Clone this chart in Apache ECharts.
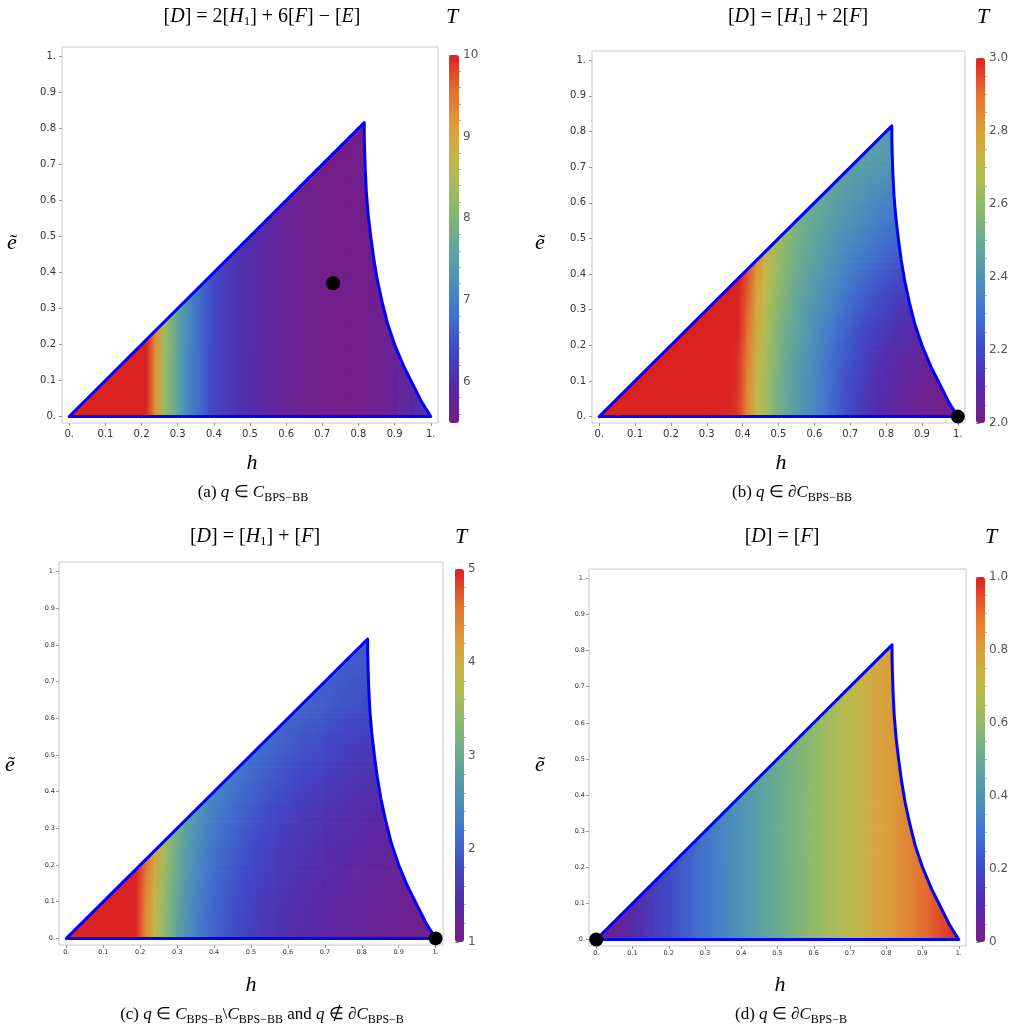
<!DOCTYPE html>
<html>
<head>
<meta charset="utf-8" />
<title>T over the (h, e) region</title>
<script src="https://cdn.jsdelivr.net/npm/echarts@6/dist/echarts.min.js"></script>
<style>
  html, body { margin: 0; padding: 0; background: #fff; }
  #main { width: 1012px; height: 1034px; }
</style>
</head>
<body>
<div id="main"></div>
<script type="text/javascript">
// region boundary (same for all four panels)
var diagTop = [0.816, 0.816];
var curveH = [0.816, 0.816, 0.817, 0.819, 0.822, 0.827, 0.834, 0.842, 0.852, 0.865, 0.88, 0.9, 0.925, 0.95, 0.975, 1.0];
var curveE = [0.816, 0.78, 0.74, 0.68, 0.62, 0.56, 0.5, 0.44, 0.38, 0.32, 0.26, 0.2, 0.14, 0.09, 0.04, 0];
var axisTicks = [0, 0.1, 0.2, 0.3, 0.4, 0.5, 0.6, 0.7, 0.8, 0.9, 1];

// T: one array per band of e (0-0.1, 0.1-0.2, ...),
// cells 0.025 wide in h, band k starts at h = 0.1 k
var cellW = 0.025, rowH = 0.1;
var rowsA = [
  [10,10,10,10,10,10,10,10,10, 9.2,8.3,7.8,7.3,6.95,6.7,6.45,6.28,6.18,6.09,6.01, 5.94,5.87,5.8,5.74,5.69,5.65,5.61,5.58,5.56,5.55, 5.55,5.56,5.58,5.61,5.65,5.7,5.76,5.84,5.93,6.02],
  [10,10,10,10,10, 9.2,8.3,7.8,7.3,6.95,6.7,6.45,6.28,6.18,6.09,6.01, 5.94,5.87,5.8,5.74,5.69,5.65,5.61,5.58,5.56,5.55, 5.55,5.56,5.58,5.61,5.65,5.7,5.76,5.84],
  [10, 9.3,8.4,7.85,7.35,7.0,6.72,6.47,6.3,6.19,6.1,6.02, 5.94,5.87,5.8,5.74,5.69,5.65,5.61,5.58,5.56,5.55, 5.55,5.56,5.58,5.61,5.65,5.7],
  [7.35,7.0,6.72,6.47,6.3,6.19,6.1,6.02, 5.94,5.87,5.8,5.74,5.69,5.65,5.61,5.58,5.56,5.55, 5.55,5.56,5.58,5.6,5.64],
  [6.3,6.19,6.1,6.02, 5.94,5.87,5.8,5.74,5.69,5.65,5.61,5.58,5.56,5.55, 5.55,5.56,5.57,5.6],
  [5.94,5.87,5.8,5.74,5.69,5.65,5.61,5.58,5.56,5.55, 5.55,5.56,5.57,5.59],
  [5.69,5.65,5.61,5.58,5.56,5.55,5.55,5.56,5.57],
  [5.56,5.55,5.55,5.56,5.57],
  [5.57]
];
var rowsB = [
  [3,3,3,3,3,3,3,3,3,3,3,3,3,3,3, 2.97,2.85,2.72,2.63,2.56,2.5,2.45,2.41,2.37,2.33, 2.29,2.25,2.21,2.18,2.15,2.12,2.1,2.08,2.06,2.05, 2.04,2.03,2.02,2.01,2.01],
  [3,3,3,3,3,3,3,3,3,3,3, 2.98,2.87,2.74,2.65,2.57,2.51,2.46,2.42,2.38,2.34, 2.3,2.26,2.23,2.2,2.17,2.14,2.12,2.1,2.08,2.07, 2.06,2.05,2.04],
  [3,3,3,3,3,3,3,3, 2.9,2.77,2.67,2.59,2.53,2.48,2.44,2.4,2.36,2.33, 2.29,2.26,2.23,2.2,2.18,2.16,2.14,2.12,2.11,2.1],
  [3,3,3,3, 2.93,2.8,2.7,2.62,2.56,2.51,2.47,2.43,2.4,2.37, 2.34,2.31,2.28,2.25,2.23,2.21,2.19,2.17,2.16],
  [2.96,2.84,2.73,2.65,2.59,2.54,2.5,2.47,2.44,2.41, 2.38,2.35,2.33,2.31,2.29,2.27,2.25,2.24],
  [2.62,2.57,2.53,2.5,2.47,2.45,2.42,2.4,2.38,2.36, 2.34,2.32,2.31,2.3],
  [2.5,2.48,2.46,2.44,2.42,2.41,2.39,2.38,2.37],
  [2.46,2.45,2.44,2.43,2.42],
  [2.44]
];
var rowsC = [
  [5,5,5,5,5,5,5,5, 4.4,3.9,3.4,3.0,2.7,2.45,2.25,2.1,1.98,1.88, 1.8,1.72,1.65,1.59,1.54,1.49,1.45,1.41,1.37,1.34, 1.31,1.28,1.25,1.23,1.2,1.18,1.16,1.14,1.12,1.1, 1.08,1.06],
  [5,5,5,5, 4.5,4.0,3.5,3.1,2.78,2.52,2.32,2.17,2.05,1.95, 1.86,1.78,1.71,1.65,1.6,1.55,1.5,1.46,1.42,1.39, 1.36,1.33,1.3,1.27,1.25,1.22,1.2,1.18,1.16,1.14],
  [4.7,4.2,3.65,3.2,2.88,2.62,2.42,2.26,2.14,2.04, 1.95,1.87,1.8,1.73,1.68,1.63,1.58,1.54,1.5,1.46, 1.43,1.4,1.37,1.34,1.31,1.28,1.26,1.24],
  [3.0,2.75,2.55,2.39,2.26,2.16,2.07,1.99,1.92,1.85, 1.79,1.74,1.69,1.64,1.6,1.56,1.52,1.49,1.46,1.43, 1.4,1.37,1.35],
  [2.4,2.3,2.21,2.13,2.06,2.0,1.94,1.88,1.83,1.78, 1.74,1.7,1.66,1.62,1.58,1.55,1.52,1.49],
  [2.2,2.14,2.08,2.03,1.98,1.93,1.89,1.85,1.81,1.77, 1.73,1.7,1.67,1.64],
  [2.12,2.08,2.04,2.0,1.96,1.92,1.88,1.85,1.82],
  [2.04,2.01,1.98,1.95,1.92],
  [1.98]
];
var rowsD = [
  [0.01,0.04,0.06,0.09,0.11,0.14,0.16,0.19,0.21,0.24, 0.26,0.29,0.31,0.34,0.36,0.39,0.41,0.44,0.46,0.49, 0.51,0.54,0.56,0.59,0.61,0.64,0.66,0.69,0.71,0.74, 0.76,0.79,0.81,0.84,0.86,0.89,0.91,0.94,0.96,0.99],
  [0.11,0.14,0.16,0.19,0.21,0.24,0.26,0.29,0.31,0.34, 0.36,0.39,0.41,0.44,0.46,0.49,0.51,0.54,0.56,0.59, 0.61,0.64,0.66,0.69,0.71,0.74,0.76,0.79,0.81,0.84, 0.86,0.89,0.91,0.94],
  [0.21,0.24,0.26,0.29,0.31,0.34,0.36,0.39,0.41,0.44, 0.46,0.49,0.51,0.54,0.56,0.59,0.61,0.64,0.66,0.69, 0.71,0.74,0.76,0.79,0.81,0.84,0.86,0.89],
  [0.31,0.34,0.36,0.39,0.41,0.44,0.46,0.49,0.51,0.54, 0.56,0.59,0.61,0.64,0.66,0.69,0.71,0.74,0.76,0.79, 0.81,0.84,0.86],
  [0.41,0.44,0.46,0.49,0.51,0.54,0.56,0.59,0.61,0.64, 0.66,0.69,0.71,0.74,0.76,0.79,0.81,0.84],
  [0.51,0.54,0.56,0.59,0.61,0.64,0.66,0.69,0.71,0.74, 0.76,0.79,0.81,0.84],
  [0.61,0.64,0.66,0.69,0.71,0.74,0.76,0.79,0.81],
  [0.71,0.74,0.76,0.79,0.81],
  [0.81]
];

// marked points
var dotA = [0.73, 0.37];
var dotB = [1, 0];
var dotC = [1, 0];
var dotD = [0, 0];

// colour bar ranges and ticks
var rangeA = [5.49, 10], rangeB = [2, 3], rangeC = [1, 5], rangeD = [0, 1];
var cbMajorA = [6, 7, 8, 9, 10];
var cbMinorA = [5.6, 5.8, 6.2, 6.4, 6.6, 6.8, 7.2, 7.4, 7.6, 7.8, 8.2, 8.4, 8.6, 8.8, 9.2, 9.4, 9.6, 9.8];
var cbMajorB = [2.0, 2.2, 2.4, 2.6, 2.8, 3.0];
var cbMinorB = [2.05, 2.1, 2.15, 2.25, 2.3, 2.35, 2.45, 2.5, 2.55, 2.65, 2.7, 2.75, 2.85, 2.9, 2.95];
var cbMajorC = [1, 2, 3, 4, 5];
var cbMinorC = [1.2, 1.4, 1.6, 1.8, 2.2, 2.4, 2.6, 2.8, 3.2, 3.4, 3.6, 3.8, 4.2, 4.4, 4.6, 4.8];
var cbMajorD = [0, 0.2, 0.4, 0.6, 0.8, 1.0];
var cbMinorD = [0.05, 0.1, 0.15, 0.25, 0.3, 0.35, 0.45, 0.5, 0.55, 0.65, 0.7, 0.75, 0.85, 0.9, 0.95];

var rainbow = ['#781c86', '#5529a8', '#4049c6', '#4175cd', '#4f95b4', '#69ab91',
               '#91ba68', '#bbbb4b', '#dba13b', '#e4712f', '#db2222'];

var panels = [
  { rows: rowsA, dot: dotA, range: rangeA, major: cbMajorA, minor: cbMinorA, fmt: function (v) { return String(v); } },
  { rows: rowsB, dot: dotB, range: rangeB, major: cbMajorB, minor: cbMinorB, fmt: function (v) { return v.toFixed(1); } },
  { rows: rowsC, dot: dotC, range: rangeC, major: cbMajorC, minor: cbMinorC, fmt: function (v) { return String(v); } },
  { rows: rowsD, dot: dotD, range: rangeD, major: cbMajorD, minor: cbMinorD, fmt: function (v) { return v === 0 ? '0' : v.toFixed(1); } }
];

// pixel layout: plot frame [left, top, width, height] and colour bar
var layout = [
  { grid: [62, 47, 376, 376], bar: [449, 55, 10, 368], font: 10, margin: 6 },
  { grid: [592, 51, 373, 372], bar: [976, 58, 9, 365], font: 10, margin: 6 },
  { grid: [59, 562, 384, 383], bar: [455, 569, 9, 373], font: 6.5, margin: 4 },
  { grid: [589, 569, 377, 377], bar: [976, 577, 9, 365], font: 6.5, margin: 4 }
];

function tickFmt(v) {
  if (v === 0) return '0.';
  if (v === 1) return '1.';
  return v.toFixed(1);
}

// idxMaps[panel][band][column] -> data index, used for smooth shading between samples
var idxMaps = [];
var SUB = 6;
var lerp = echarts.color.lerp;

function gradRect(x0, x1, y0, y1, cl, cr) {
  var fill = cl === cr ? cl : new echarts.graphic.LinearGradient(0, 0, 1, 0, [{ offset: 0, color: cl }, { offset: 1, color: cr }]);
  return { type: 'rect', shape: { x: x0, y: y0, width: x1 - x0 + 0.7, height: y1 - y0 + 0.7 }, style: { fill: fill } };
}

// patch from this sample to the next one on the right and the one above,
// shaded between the four sample colours
function renderCell(params, api) {
  var map = idxMaps[Math.floor(params.seriesIndex / 4)];
  var h = api.value(0), k = api.value(3), i = api.value(4);
  function colorAt(kk, ii) {
    var row = map[kk];
    if (!row || row[ii] === undefined) return null;
    return api.visual('color', row[ii]);
  }
  var c00 = api.visual('color');
  var c10 = colorAt(k, i + 1);
  var c01 = colorAt(k + 1, i);
  var c11 = colorAt(k + 1, i + 1);
  var hasRight = c10 !== null;
  if (!c10) c10 = c00;
  if (!c11) c11 = c01 ? c01 : c10;
  if (!c01) c01 = c00;
  var hRight = hasRight ? h + cellW : h + cellW / 2;
  var eMid = k * rowH + rowH / 2;
  var xc = api.coord([h, 0])[0], xr = api.coord([hRight, 0])[0];
  var xl = api.coord([h - cellW / 2, 0])[0];
  var hasLeft = colorAt(k, i - 1) !== null;
  var children = [];
  for (var s = 0; s < SUB; s++) {
    var f = (s + 0.5) / SUB;
    var yTop = api.coord([h, eMid + (s + 1) * rowH / SUB])[1];
    var yBot = api.coord([h, eMid + s * rowH / SUB])[1];
    var cl = lerp(f, [c00, c01]), cr = lerp(f, [c10, c11]);
    children.push(gradRect(xc, xr, yTop, yBot, cl, cr));
    if (!hasLeft) children.push(gradRect(xl, xc, yTop, yBot, cl, cl));
  }
  if (k === 0) {
    var yMid = api.coord([h, eMid])[1], y0 = api.coord([h, 0])[1];
    children.push(gradRect(xc, xr, yMid, y0, c00, c10));
    if (!hasLeft) children.push(gradRect(xl, xc, yMid, y0, c00, c00));
  }
  return { type: 'group', children: children };
}

// white cover over everything in the frame that is outside the region
function renderMask(params, api) {
  var cs = params.coordSys;
  var origin = api.coord([0, 0]);
  var pts = [origin, api.coord(diagTop)];
  for (var k = 0; k < curveH.length; k++) pts.push(api.coord([curveH[k], curveE[k]]));
  var x0 = cs.x + 1, x1 = cs.x + cs.width - 1, y0 = cs.y + 1;
  pts.push([x1, origin[1]], [x1, y0], [x0, y0], [x0, origin[1]]);
  return { type: 'polygon', shape: { points: pts }, style: { fill: '#fff' } };
}

var outline = [[0, 0], diagTop];
for (var k = 0; k < curveH.length; k++) outline.push([curveH[k], curveE[k]]);
outline.push([0, 0]);

var grids = [], xAxes = [], yAxes = [], series = [], visualMaps = [];
panels.forEach(function (p, n) {
  var L = layout[n];
  var cells = [], map = [];
  p.rows.forEach(function (row, k) {
    var i0 = Math.round(k * rowH / cellW);
    map[k] = {};
    row.forEach(function (t, j) {
      map[k][i0 + j] = cells.length;
      cells.push([(i0 + j + 0.5) * cellW, k * rowH, t, k, i0 + j]);
    });
  });
  idxMaps[n] = map;

  grids[n] = { left: L.grid[0], top: L.grid[1], width: L.grid[2], height: L.grid[3],
               show: true, borderColor: '#c8c8c8', borderWidth: 1, backgroundColor: '#fff' };
  grids[4 + n] = { left: L.bar[0], top: L.bar[1], width: L.bar[2], height: L.bar[3] };

  var tickLabel = { customValues: axisTicks, formatter: tickFmt, fontSize: L.font, color: '#333',
                    fontFamily: 'DejaVu Sans', margin: L.margin };
  xAxes[n] = { type: 'value', gridIndex: n, min: -0.02, max: 1.02,
               axisLine: { show: false, onZero: false }, splitLine: { show: false },
               axisTick: { customValues: axisTicks, length: 3, lineStyle: { color: '#999' } },
               axisLabel: tickLabel };
  yAxes[n] = { type: 'value', gridIndex: n, min: -0.018, max: 1.026, position: 'left',
               axisLine: { show: false, onZero: false }, splitLine: { show: false },
               axisTick: { customValues: axisTicks, length: 3, lineStyle: { color: '#999' } },
               axisLabel: tickLabel };
  xAxes[4 + n] = { type: 'value', gridIndex: 4 + n, min: 0, max: 1, show: false };
  yAxes[4 + n] = { type: 'value', gridIndex: 4 + n, min: p.range[0], max: p.range[1], position: 'right',
                   axisLine: { show: false }, splitLine: { show: false },
                   axisTick: { customValues: p.major, length: 4, lineStyle: { color: '#888' } },
                   axisLabel: { customValues: p.major, formatter: p.fmt, fontSize: 12, color: '#555',
                                fontFamily: 'DejaVu Sans', margin: 4 } };
  yAxes[8 + n] = { type: 'value', gridIndex: 4 + n, min: p.range[0], max: p.range[1], position: 'right',
                   axisLine: { show: false }, splitLine: { show: false },
                   axisTick: { customValues: p.minor, length: 2, lineStyle: { color: '#aaa' } },
                   axisLabel: { show: false } };

  series.push({ type: 'custom', xAxisIndex: n, yAxisIndex: n, renderItem: renderCell, data: cells,
                dimensions: ['h', 'e', 'T', 'k', 'i'], encode: { x: 0, y: 1 }, z: 1, silent: true });
  series.push({ type: 'custom', xAxisIndex: n, yAxisIndex: n, renderItem: renderMask, data: [[0, 0]],
                encode: { x: 0, y: 1 }, z: 2, silent: true });
  series.push({ type: 'line', xAxisIndex: n, yAxisIndex: n, data: outline, symbol: 'none', z: 3,
                silent: true, lineStyle: { color: '#0000ff', width: 3, join: 'round', cap: 'round' } });
  series.push({ type: 'scatter', xAxisIndex: n, yAxisIndex: n, data: [p.dot], symbolSize: 14, z: 4,
                silent: true, itemStyle: { color: '#000', opacity: 1 } });

  visualMaps.push({ type: 'continuous', seriesIndex: 4 * n, dimension: 2, min: p.range[0], max: p.range[1],
                    inRange: { color: rainbow }, orient: 'vertical', left: L.bar[0], top: L.bar[1],
                    itemWidth: L.bar[2], itemHeight: L.bar[3], padding: 0, calculable: false,
                    hoverLink: false, show: true });
});

// texts
var serif = 'Liberation Serif';
function mathRich(size, sub) {
  return {
    n: { fontFamily: serif, fontSize: size, fill: '#000' },
    i: { fontFamily: serif, fontSize: size, fontStyle: 'italic', fill: '#000' },
    s: { fontFamily: serif, fontSize: sub, padding: [Math.round(sub * 0.8), 0, 0, 0], fill: '#000' }
  };
}
var titles = [
  ['{n|[}{i|D}{n|] = 2[}{i|H}{s|1}{n|] + 6[}{i|F}{n|] − [}{i|E}{n|]}', 262, 17],
  ['{n|[}{i|D}{n|] = [}{i|H}{s|1}{n|] + 2[}{i|F}{n|]}', 798, 17],
  ['{n|[}{i|D}{n|] = [}{i|H}{s|1}{n|] + [}{i|F}{n|]}', 255, 537],
  ['{n|[}{i|D}{n|] = [}{i|F}{n|]}', 782, 537]
];
var tLabels = [[452, 17], [983, 17], [461, 537], [991, 537]];
var hLabels = [[252, 463], [781, 463], [251, 985], [780, 985]];
var eLabels = [[12, 243], [540, 243], [10, 765], [540, 765]];
var captions = [
  ['{n|(a) }{i|q}{n| ∈ }{i|C}{s|BPS−BB}', 253, 493],
  ['{n|(b) }{i|q}{n| ∈ ∂}{i|C}{s|BPS−BB}', 792, 493],
  ['{n|(c) }{i|q}{n| ∈ }{i|C}{s|BPS−B}{n|\\}{i|C}{s|BPS−BB}{n| and }{i|q}{n| ∉ ∂}{i|C}{s|BPS−B}', 262, 1015],
  ['{n|(d) }{i|q}{n| ∈ ∂}{i|C}{s|BPS−B}', 791, 1015]
];

var graphics = [];
function addText(text, x, y, rich) {
  graphics.push({ type: 'text', x: x, y: y, silent: true,
    style: { text: text, rich: rich, align: 'center', verticalAlign: 'middle',
             textAlign: 'center', textVerticalAlign: 'middle', fill: '#000' } });
}
titles.forEach(function (t) { addText(t[0], t[1], t[2], mathRich(20, 13)); });
tLabels.forEach(function (t) { addText('{i|T}', t[0], t[1], mathRich(22, 13)); });
hLabels.forEach(function (t) { addText('{i|h}', t[0], t[1], mathRich(22, 13)); });
eLabels.forEach(function (t) { addText('{i|ẽ}', t[0], t[1], mathRich(22, 13)); });
captions.forEach(function (t) { addText(t[0], t[1], t[2], mathRich(17, 12)); });

var myChart = echarts.init(document.getElementById('main'));
myChart.setOption({
  animation: false,
  backgroundColor: '#fff',
  grid: grids,
  xAxis: xAxes,
  yAxis: yAxes,
  visualMap: visualMaps,
  series: series,
  graphic: graphics
});
</script>
</body>
</html>
